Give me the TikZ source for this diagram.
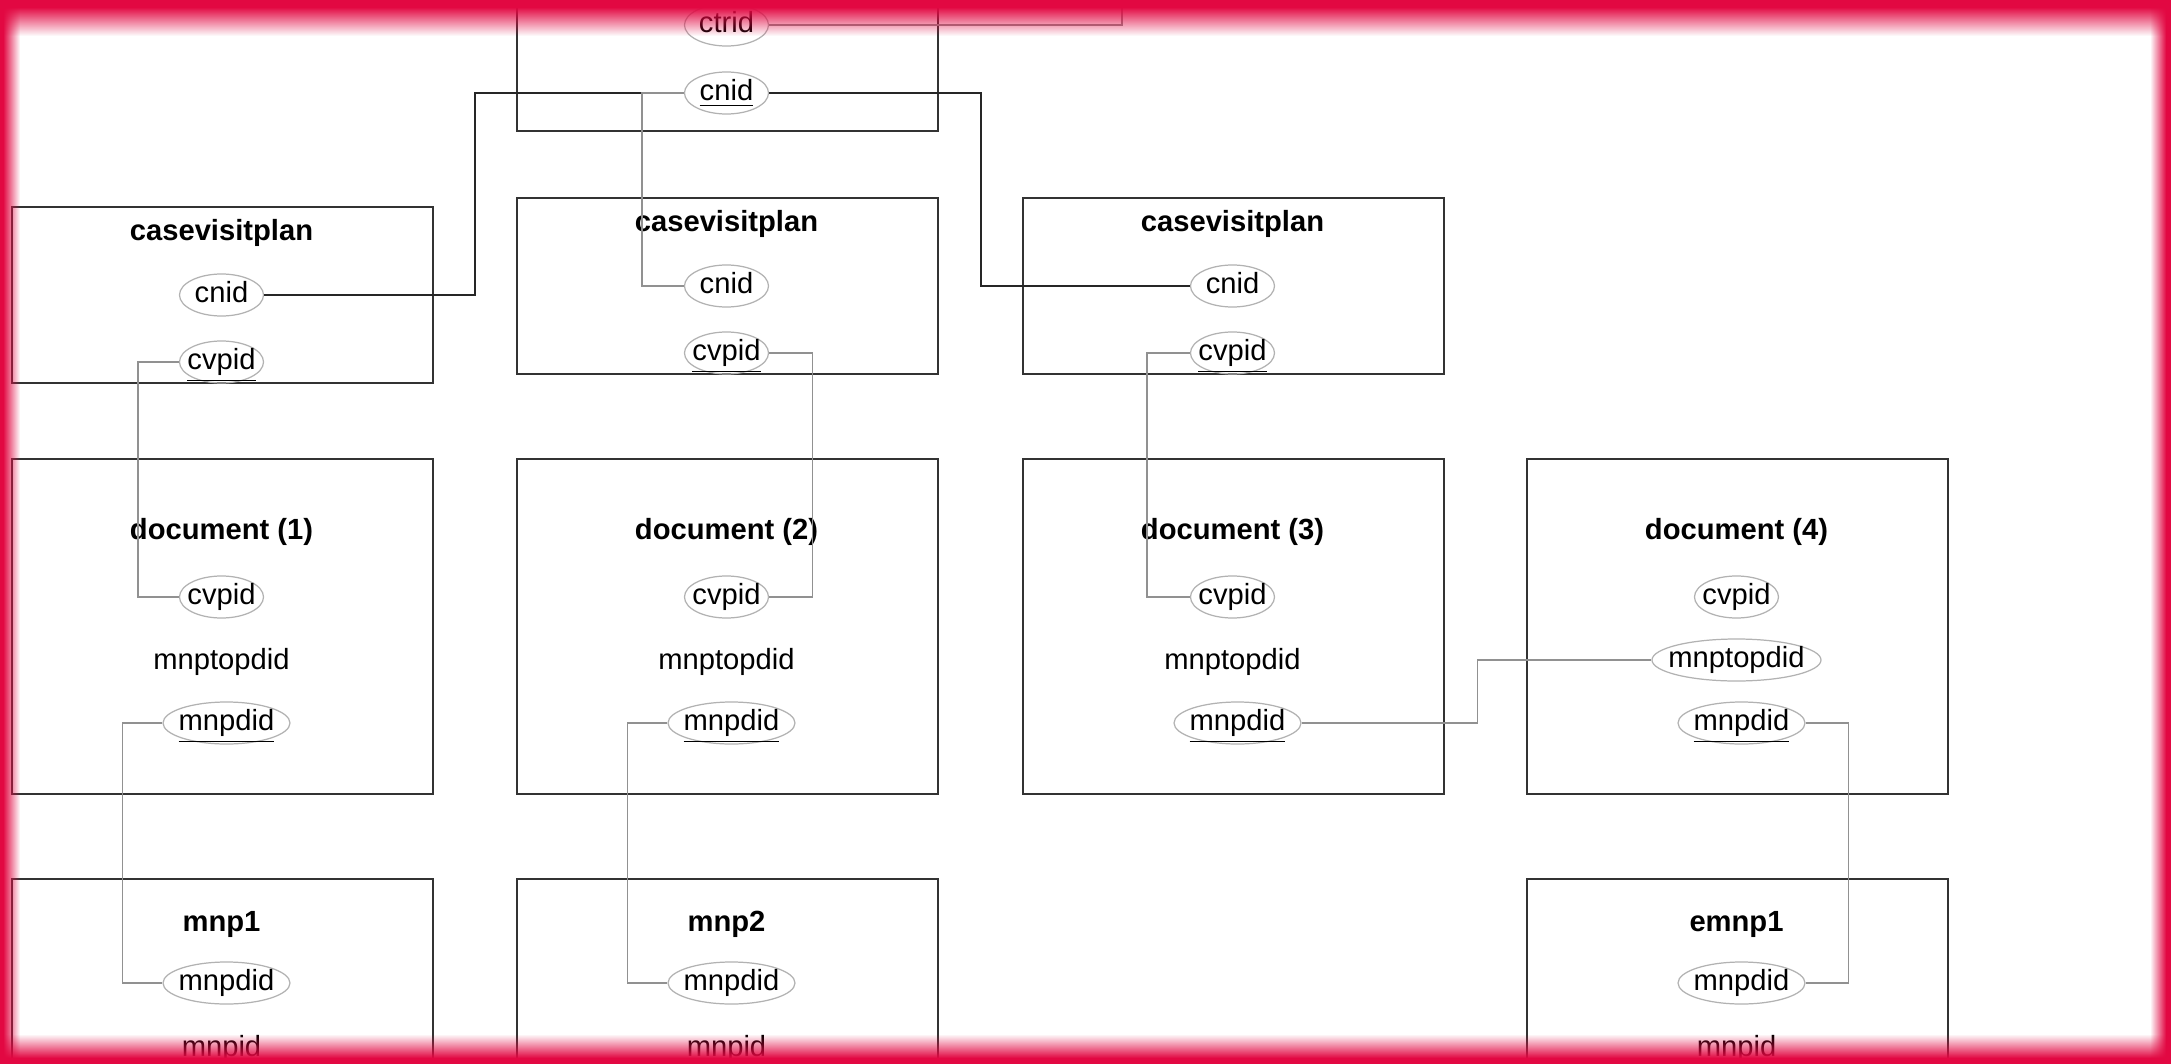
\documentclass[tikz,border=0pt]{standalone}
\usepackage{fontspec}
\setmainfont{Liberation Sans}
\usetikzlibrary{shapes.geometric,fadings}
\definecolor{framered}{RGB}{226,8,66}
\definecolor{linegray}{RGB}{145,145,145}
\tikzfading[name=fadedown, top color=transparent!0, bottom color=transparent!100]
\tikzfading[name=fadeup, top color=transparent!100, bottom color=transparent!0]
\tikzfading[name=faderight, left color=transparent!0, right color=transparent!100]
\tikzfading[name=fadeleft, left color=transparent!100, right color=transparent!0]
\begin{document}
\begin{tikzpicture}[x=0.1mm,y=-0.1mm,font=\fontsize{8.3}{10}\selectfont,
  tbl/.style={draw=black!80,line width=0.45pt,anchor=north west,minimum width=42.1mm,inner sep=0pt},
  ttl/.style={font=\fontsize{8.3}{10}\selectfont\bfseries},
  fld/.style={ellipse,draw=gray!60,line width=0.35pt,inner sep=0pt,inner xsep=-1mm,
    text height=2mm,text depth=0.5mm,minimum height=4.2mm,minimum width=#1},
  fld/.default=8.4mm,
  rel/.style={draw=linegray,line width=0.35pt},
  relk/.style={draw=black!85,line width=0.4pt}]
   \useasboundingbox (0,0) rectangle (2171,1064);
   \clip (0,0) rectangle (2171,1064);
   \fill[white] (0,0) rectangle (2171,1064);
   % top table, cut off by the page
   \node[tbl,minimum height=19.3mm] (ct) at (516,-63) {};
   \node[fld] (ct-ctrid) at (726.5,25) {ctrid};
   \node[fld] (ct-cnid) at (726.5,93) {\underline{cnid}};
   % casevisitplan tables
   \foreach \n/\x/\y in {1/11/206, 2/516/197, 3/1022/197}
   {
     \node[tbl,minimum height=17.6mm] (cvp\n) at (\x,\y) {};
     \node[ttl] at (\x+210.5,\y+27) {casevisitplan};
     \node[fld] (cvp\n-cnid) at (\x+210.5,\y+89) {cnid};
     \node[fld] (cvp\n-cvpid) at (\x+210.5,\y+156) {\underline{cvpid}};
   }
   % document tables
   \foreach \n/\x in {1/11, 2/516, 3/1022, 4/1526}
   {
     \node[tbl,minimum height=33.5mm] (doc\n) at (\x,458) {};
     \node[ttl] at (\x+210.5,532) {document (\n)};
     \node[fld] (doc\n-cvpid) at (\x+210.5,597) {cvpid};
     \node[fld=12.7mm] (doc\n-mnpdid) at (\x+215.5,723) {\underline{mnpdid}};
   }
   \foreach \n/\x in {1/11, 2/516, 3/1022}
     \node (doc\n-mnptopdid) at (\x+210.5,662) {mnptopdid};
   \node[fld=16.9mm] (doc4-mnptopdid) at (1736.5,660) {mnptopdid};
   % mnp tables
   \foreach \n/\x/\t in {1/11/mnp1, 2/516/mnp2, 3/1526/emnp1}
   {
     \node[tbl,minimum height=25mm] (mnp\n) at (\x,878) {};
     \node[ttl] at (\x+210.5,924) {\t};
     \node[fld=12.7mm] (mnp\n-mnpdid) at (\x+215.5,983) {mnpdid};
     \node (mnp\n-mnpid) at (\x+210.5,1052) {\underline{mnpid}};
   }
   % relations
   \coordinate (ct-out) at (1122,-20);
   \draw[rel] (ct-ctrid.east) -| (ct-out);
   \draw[relk] (ct-cnid.west) -- ++(-209,0) |- (cvp1-cnid.east);
   \draw[rel] (ct-cnid.west) -- ++(-42,0) |- (cvp2-cnid.west);
   \draw[relk] (ct-cnid.east) -- ++(212,0) |- (cvp3-cnid.west);
   \draw[rel] (cvp1-cvpid.west) -- ++(-41,0) |- (doc1-cvpid.west);
   \draw[rel] (cvp2-cvpid.east) -- ++(43,0) |- (doc2-cvpid.east);
   \draw[rel] (cvp3-cvpid.west) -- ++(-43,0) |- (doc3-cvpid.west);
   \draw[rel] (doc1-mnpdid.west) -- ++(-40,0) |- (mnp1-mnpdid.west);
   \draw[rel] (doc2-mnpdid.west) -- ++(-40,0) |- (mnp2-mnpdid.west);
   \draw[rel] (doc3-mnpdid.east) -- ++(176,0) |- (doc4-mnptopdid.west);
   \draw[rel] (doc4-mnpdid.east) -- ++(43,0) |- (mnp3-mnpdid.east);
   % glowing frame
   \fill[framered] (0,0) rectangle (2171,7);
   \fill[framered,path fading=fadedown] (0,7) rectangle (2171,36);
   \fill[framered] (0,1058) rectangle (2171,1064);
   \fill[framered,path fading=fadeup] (0,1034) rectangle (2171,1058);
   \fill[framered] (0,0) rectangle (3,1064);
   \fill[framered,path fading=faderight] (3,0) rectangle (20,1064);
   \fill[framered] (2166,0) rectangle (2171,1064);
   \fill[framered,path fading=fadeleft] (2150,0) rectangle (2166,1064);
\end{tikzpicture}
\end{document}
